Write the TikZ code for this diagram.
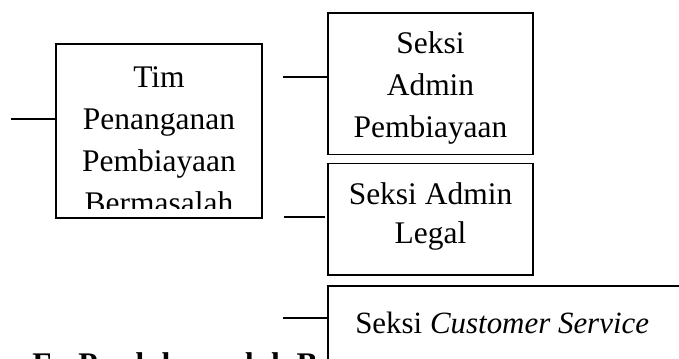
\documentclass[tikz,border=0pt]{standalone}
\usepackage{fontspec}
\setmainfont{Liberation Serif}
\usetikzlibrary{fit}
\begin{document}
\begin{tikzpicture}[x=0.75pt,y=-0.75pt,
  box/.style={draw, line width=1.2pt, inner sep=0pt, fill=white},
  conn/.style={line width=1.2pt},
  lbl/.style={inner sep=0pt, align=center, font=\fontsize{23.6}{31.5}\selectfont}]
\useasboundingbox (0,0) rectangle (679,358);
\clip (0,0) rectangle (679,358);
\node[lbl, font=\bfseries\fontsize{23.6}{31.5}\selectfont, anchor=base west] (sec) at (32,374) {\makebox[34.5pt][l]{F.}Produk-produk Bank};
\node[box, fit={(56,44)(262,218)}] (tim) {};
\begin{scope}
\clip (58,46) rectangle (260,208);
\node[lbl, anchor=north] (timtext) at (159,66.5) {Tim\\Penanganan\\Pembiayaan\\Bermasalah};
\end{scope}
\node[box, fit={(328,12.7)(533,154.3)}] (adm) {};
\node[lbl, anchor=north] (admtext) at (430.5,31.5) {Seksi\\Admin\\Pembiayaan};
\node[box, fit={(328,163.3)(533,275)}] (leg) {};
\node[lbl, anchor=north] (legtext) at (430.5,182.5) {Seksi Admin\\[-2.25pt]Legal};
\node[box, fit={(328,286)(700,420)}] (cs) {};
\node[lbl, anchor=base west, font=\fontsize{23.2}{31.5}\selectfont] (cstext) at (355,333) {Seksi \textit{Customer Service}};
\coordinate (c0) at (11,119);
\draw[conn] (c0) -- (c0 -| tim.west);
\coordinate (c1) at (283,76.7);
\draw[conn] (c1) -- (c1 -| adm.west);
\coordinate (c2) at (284,216.7);
\draw[conn, shorten >=2pt] (c2) -- (c2 -| leg.west);
\coordinate (c3) at (283,317.7);
\draw[conn] (c3) -- (c3 -| cs.west);
\end{tikzpicture}
\end{document}
